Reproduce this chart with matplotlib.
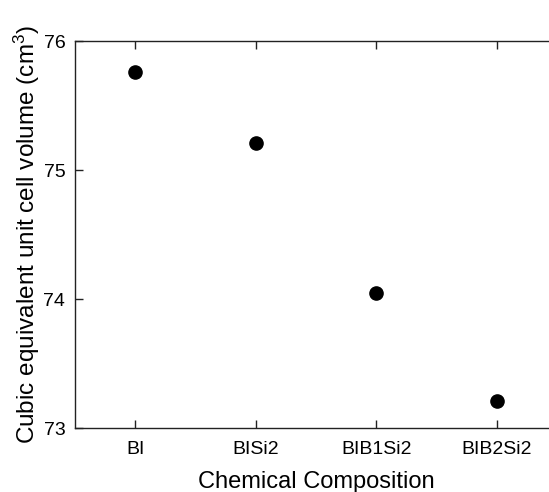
import matplotlib
matplotlib.use('Agg')
import matplotlib.pyplot as plt

compositions = ['BI', 'BISi2', 'BIB1Si2', 'BIB2Si2']
cell_volume = [75.76, 75.21, 74.05, 73.21]
y_ticks = [73, 74, 75, 76]

plt.rcParams['font.family'] = ['Liberation Sans', 'DejaVu Sans']
plt.rcParams['mathtext.fontset'] = 'custom'
plt.rcParams['mathtext.rm'] = 'Liberation Sans'


def plot_cell_volume() -> None:
    fig = plt.figure(figsize=(5.49, 4.92), dpi=100)
    # right edge of the frame sits just outside the picture, as in the original
    ax = fig.add_axes([0.1366, 0.130, 0.878, 0.7866])

    x = list(range(len(compositions)))
    ax.plot(x, cell_volume, linestyle='none', marker='o',
            markersize=9.5, color='black')

    ax.set_xlim(-0.5, len(compositions) - 0.5)
    ax.set_ylim(73, 76)
    ax.set_xticks(x)
    ax.set_xticklabels(compositions)
    ax.set_yticks(y_ticks)

    ax.tick_params(axis='both', direction='in', length=6, width=1,
                   top=True, right=True, labelsize=14, color='#222222')
    ax.tick_params(axis='x', pad=9)
    ax.tick_params(axis='y', pad=7)
    for spine in ax.spines.values():
        spine.set_linewidth(1.0)
        spine.set_color('#222222')

    ax.set_xlabel('Chemical Composition', fontsize=17, labelpad=9.5)
    ax.set_ylabel(r'Cubic equivalent unit cell volume (cm$\mathregular{^3}$)',
                  fontsize=17.5, labelpad=1)

    fig.savefig('out.png', dpi=100)


if __name__ == '__main__':
    plot_cell_volume()
